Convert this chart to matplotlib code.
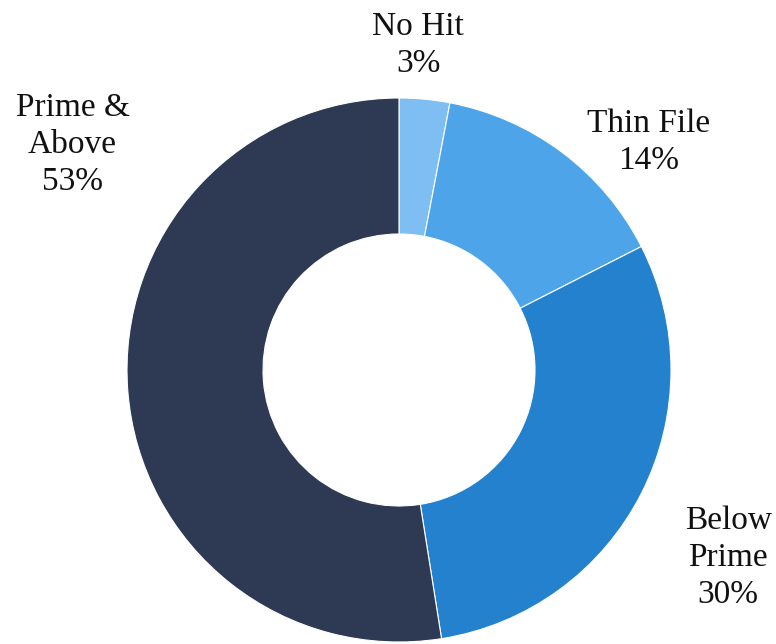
import matplotlib
matplotlib.use("Agg")
import matplotlib.pyplot as plt

categories = ["No Hit", "Thin File", "Below Prime", "Prime & Above"]
label_texts = ["No Hit\n3%", "Thin File\n14%", "Below\nPrime\n30%", "Prime &\nAbove\n53%"]
values = [3, 14.5, 30, 52.5]
colors = ["#7FBEF2", "#4EA4E8", "#2381CD", "#2E3A53"]
label_pos = [(0.07, 1.195), (0.919, 0.838), (1.21, -0.69), (-1.20, 0.827)]

W, H = 776, 644
cx, cy, R = 399, 370, 272

fig = plt.figure(figsize=(W / 100, H / 100), dpi=100)
ax = fig.add_axes([0, 0, 1, 1])
ax.pie(values, colors=colors, startangle=90, counterclock=False, radius=1,
       wedgeprops=dict(width=0.5, edgecolor="white", linewidth=0.8))
ax.set_xlim(-cx / R, (W - cx) / R)
ax.set_ylim(-(H - cy) / R, cy / R)
ax.set_aspect("equal")
ax.axis("off")

for txt, (x, y) in zip(label_texts, label_pos):
    ax.text(x, y, txt, ha="center", va="center", fontsize=24,
            family="Liberation Serif", linespacing=1.27, color="#111111")

fig.savefig("out.png", dpi=100)
